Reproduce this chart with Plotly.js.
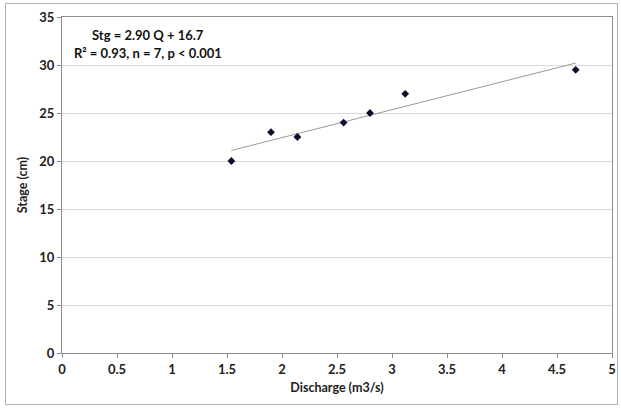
<!DOCTYPE html>
<html>
<head>
<meta charset="utf-8">
<script src="https://cdn.plot.ly/plotly-3.0.1.min.js"></script>
<style>
  html, body { margin: 0; padding: 0; background: #fff; }
  #wrap { position: relative; width: 621px; height: 408px; }
  #chart { width: 621px; height: 408px; }
  #frame { position: absolute; left: 5px; top: 3px; width: 611px; height: 400px;
           border: 1px solid #b0b0b0; pointer-events: none; }
</style>
</head>
<body>
<div id="wrap">
  <div id="chart"></div>
  <div id="frame"></div>
</div>
<script>
// Observed data (discharge in m3/s, stage in cm)
const discharge = [1.54, 1.90, 2.14, 2.56, 2.80, 3.12, 4.67];
const stage     = [20.0, 23.0, 22.5, 24.0, 25.0, 27.0, 29.5];

// Fitted trend line endpoints
const trendX = [1.54, 4.67];
const trendY = [21.1, 30.2];

const eqLine1 = "Stg = 2.90 Q + 16.7";
const eqLine2 = "R² = 0.93, n = 7, p < 0.001";

const xTicks = [0, 0.5, 1, 1.5, 2, 2.5, 3, 3.5, 4, 4.5, 5];
const xTickText = ["0", "0.5", "1", "1.5", "2", "2.5", "3", "3.5", "4", "4.5", "5"];
const yTicks = [0, 5, 10, 15, 20, 25, 30, 35];
const yTickText = ["0", "5", "10", "15", "20", "25", "30", "35"];

const FONT = "Lato, 'Open Sans', 'Liberation Sans', sans-serif";
const bold = s => "<b>" + s + "</b>";

const traces = [
  {
    x: trendX, y: trendY, type: "scatter", mode: "lines",
    line: { color: "#9a9a9a", width: 1 }, hoverinfo: "skip", showlegend: false
  },
  {
    x: discharge, y: stage, type: "scatter", mode: "markers",
    marker: { symbol: "diamond", size: 6, color: "#0a0f2e" }, showlegend: false
  }
];

const layout = {
  width: 621, height: 408,
  margin: { l: 62, r: 9, t: 17, b: 55 },
  paper_bgcolor: "#ffffff", plot_bgcolor: "#ffffff",
  font: { family: FONT, size: 12, color: "#222" },
  xaxis: {
    range: [0, 5], tickvals: xTicks, ticktext: xTickText.map(bold),
    showgrid: false, zeroline: false,
    showline: true, linecolor: "#8c8c8c", linewidth: 1, mirror: true,
    ticks: "outside", ticklen: 4, tickcolor: "#8c8c8c",
    tickfont: { family: FONT, size: 13, color: "#222" },
    title: { text: bold("Discharge (m3/s)"), font: { family: FONT, size: 12.5, color: "#222" }, standoff: 7 }
  },
  yaxis: {
    range: [0, 35], tickvals: yTicks, ticktext: yTickText.map(bold),
    showgrid: true, gridcolor: "#d9d9d9", gridwidth: 1, zeroline: false,
    showline: true, linecolor: "#8c8c8c", linewidth: 1, mirror: true,
    ticks: "outside", ticklen: 4, tickcolor: "#8c8c8c",
    tickfont: { family: FONT, size: 13, color: "#222" },
    title: { text: bold("Stage (cm)"), font: { family: FONT, size: 12.5, color: "#222" }, standoff: 8 }
  },
  annotations: [
    { xref: "paper", yref: "paper", x: 0.157, y: 0.945, xanchor: "center", yanchor: "middle",
      text: bold(eqLine1), showarrow: false, font: { family: FONT, size: 13, color: "#111" } },
    { xref: "paper", yref: "paper", x: 0.157, y: 0.893, xanchor: "center", yanchor: "middle",
      text: bold(eqLine2), showarrow: false, font: { family: FONT, size: 13, color: "#111" } }
  ]
};

Plotly.newPlot("chart", traces, layout, { displayModeBar: false, staticPlot: true });
</script>
</body>
</html>
